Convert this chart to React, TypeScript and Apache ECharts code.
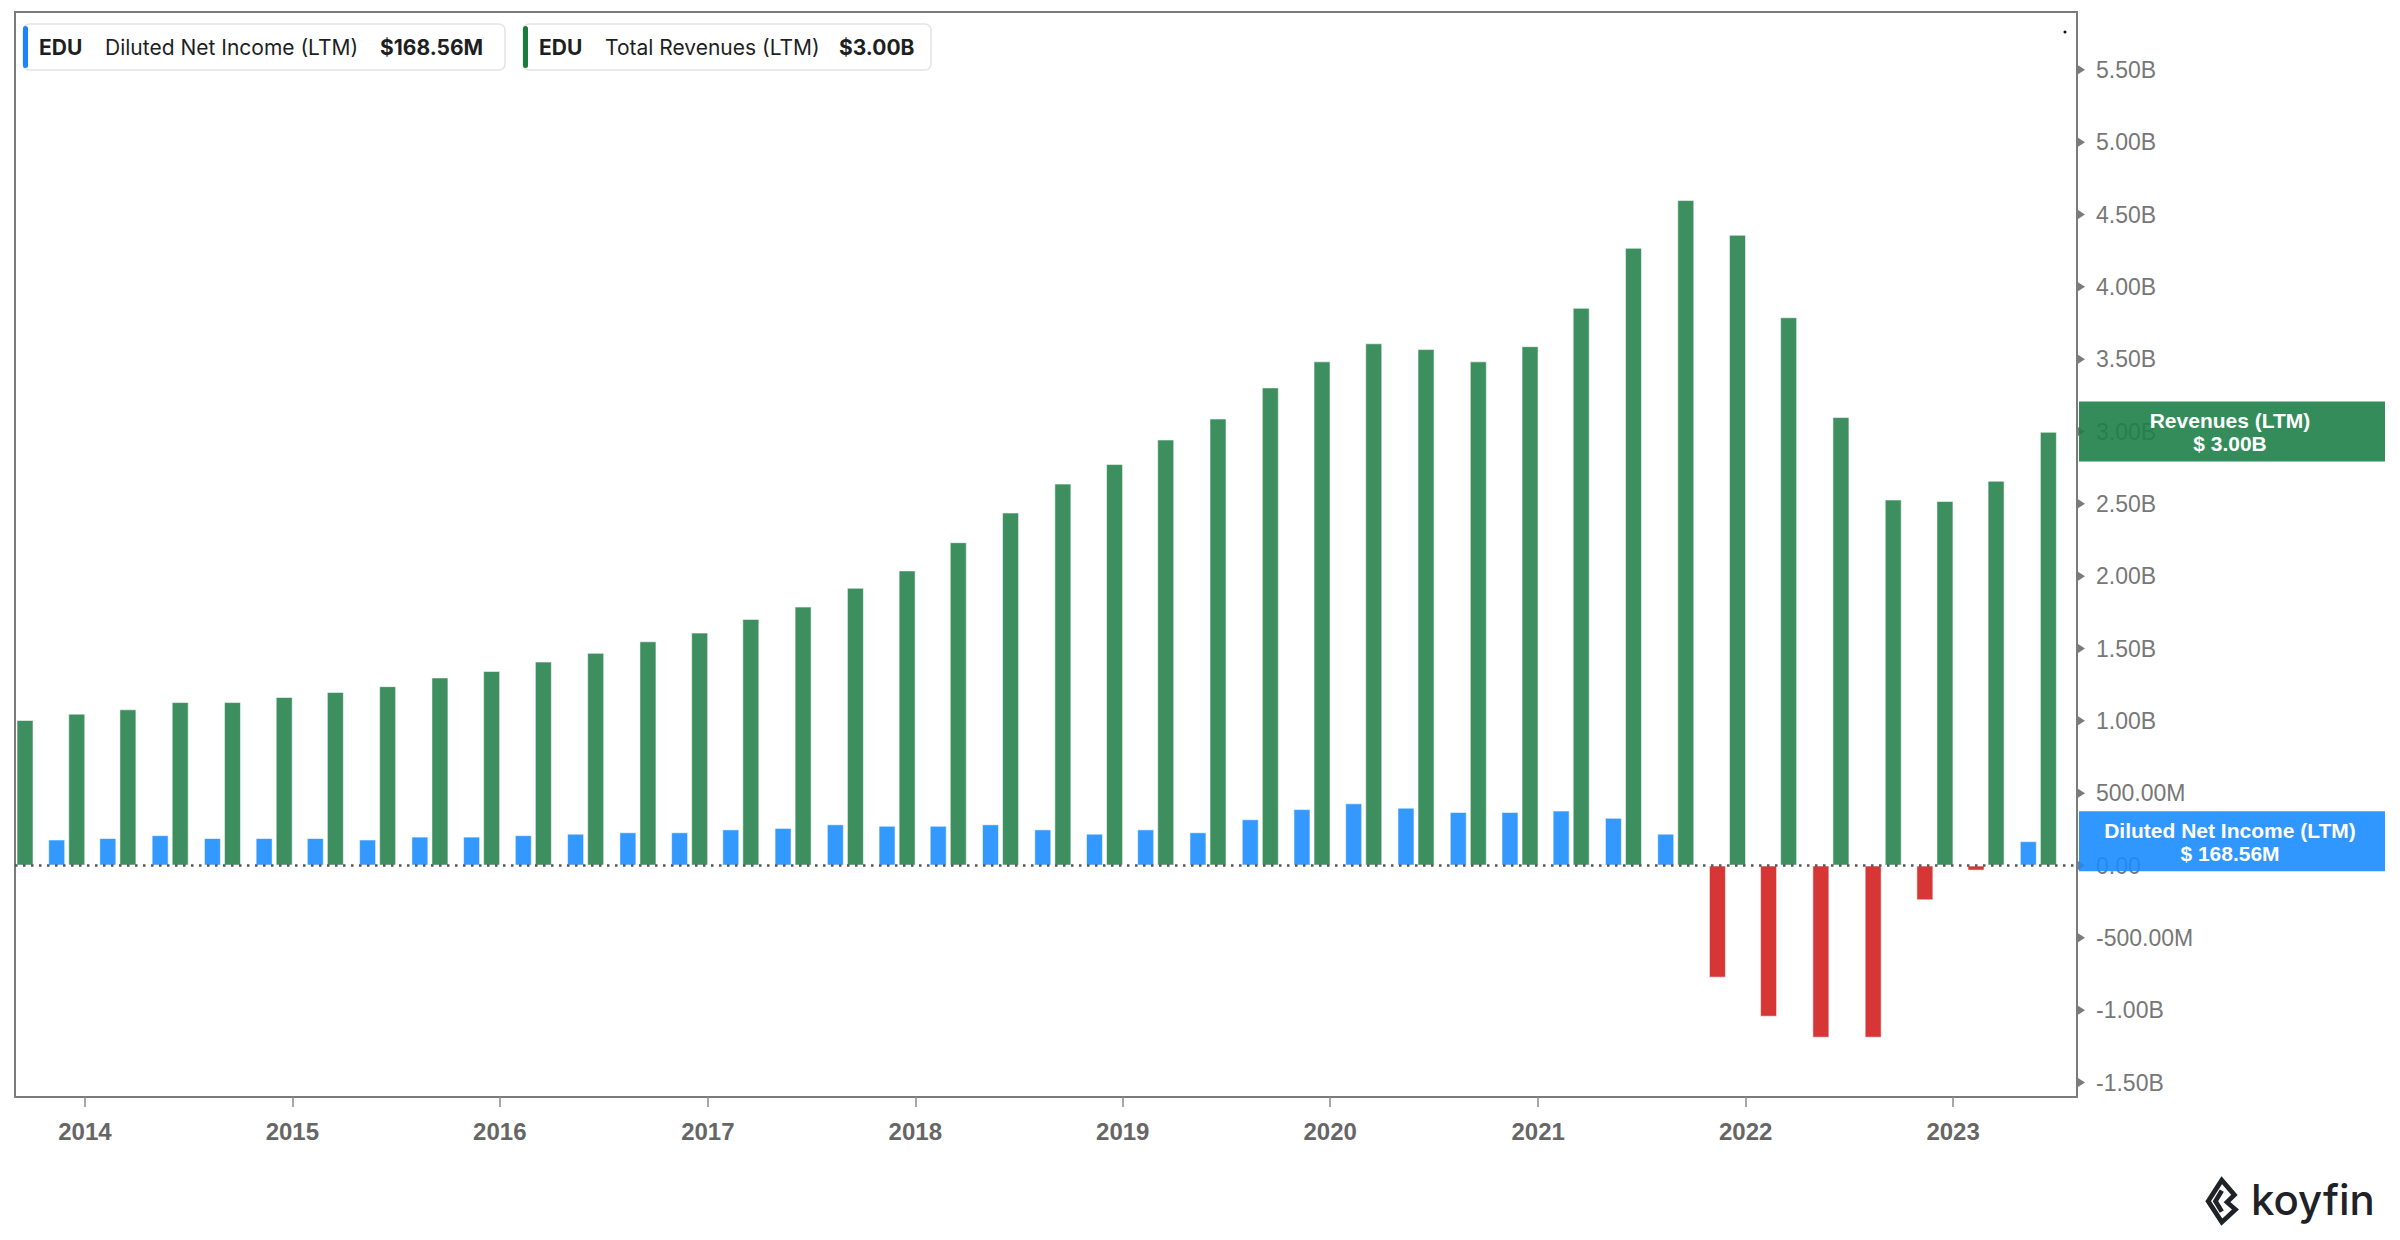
import React, { useEffect, useRef } from "react";
import * as echarts from "echarts";

// Fiscal quarter-end dates (New Oriental, FY ends May 31)
const QUARTERS = [
  "2013-08-31", "2013-11-30", "2014-02-28", "2014-05-31",
  "2014-08-31", "2014-11-30", "2015-02-28", "2015-05-31",
  "2015-08-31", "2015-11-30", "2016-02-29", "2016-05-31",
  "2016-08-31", "2016-11-30", "2017-02-28", "2017-05-31",
  "2017-08-31", "2017-11-30", "2018-02-28", "2018-05-31",
  "2018-08-31", "2018-11-30", "2019-02-28", "2019-05-31",
  "2019-08-31", "2019-11-30", "2020-02-29", "2020-05-31",
  "2020-08-31", "2020-11-30", "2021-02-28", "2021-05-31",
  "2021-08-31", "2021-11-30", "2022-02-28", "2022-05-31",
  "2022-08-31", "2022-11-30", "2023-02-28", "2023-05-31",
];

// Diluted Net Income (LTM), USD billions
const NET_INCOME = [
  0.18, 0.18, 0.19, 0.21, 0.19, 0.19, 0.19, 0.18,
  0.20, 0.20, 0.21, 0.22, 0.23, 0.23, 0.25, 0.26,
  0.285, 0.275, 0.275, 0.285, 0.25, 0.22, 0.25, 0.23,
  0.32, 0.39, 0.43, 0.40, 0.37, 0.37, 0.38, 0.33,
  0.22, -0.775, -1.045, -1.19, -1.19, -0.24, -0.035, 0.16856,
];

// Total Revenues (LTM), USD billions
const REVENUES = [
  1.006, 1.05, 1.08, 1.13, 1.13, 1.165, 1.2, 1.24,
  1.3, 1.345, 1.41, 1.47, 1.55, 1.61, 1.705, 1.79,
  1.92, 2.04, 2.235, 2.44, 2.64, 2.775, 2.945, 3.09,
  3.305, 3.485, 3.61, 3.57, 3.485, 3.59, 3.855, 4.27,
  4.6, 4.36, 3.79, 3.1, 2.53, 2.52, 2.66, 2.998,
];

const YEAR_TICKS = [2014, 2015, 2016, 2017, 2018, 2019, 2020, 2021, 2022, 2023];
const Y_TICKS = [-1.5, -1.0, -0.5, 0, 0.5, 1.0, 1.5, 2.0, 2.5, 3.0, 3.5, 4.0, 4.5, 5.0, 5.5];

const X_MIN = "2013-08-31";
const X_MAX = "2023-08-07";
const Y_MIN = -1.6;
const Y_MAX = 5.9;

const BLUE = "#3399ff";
const RED = "#d63636";
const GREEN = "#3d8f5f";

const ts = (s: string) => {
  const [y, m, d] = s.split("-").map(Number);
  return Date.UTC(y, m - 1, d);
};

const fmtY = (v: number) => {
  if (Math.abs(v) < 1) return "0.00";
  if (Math.abs(v) >= 1e9 - 1) return (v / 1e9).toFixed(2) + "B";
  return (v / 1e6).toFixed(2) + "M";
};

const LOGO_PATH =
  "M16 3 L3 23 L16 43 L29 31 L21 24 L28 17 Z M16 13 L10 23 L16 33";

let logoRegistered = false;

export default function App() {
  const ref = useRef<HTMLDivElement>(null);

  useEffect(() => {
    document.body.style.margin = "0";
    if (!logoRegistered) {
      echarts.graphic.registerShape("koyfinLogo", echarts.graphic.extendPath(LOGO_PATH, {}));
      logoRegistered = true;
    }
    const chart = echarts.init(ref.current as HTMLDivElement, null, {
      renderer: "svg",
      width: 2400,
      height: 1240,
    });

    const yearTs = YEAR_TICKS.map((y) => Date.UTC(y, 0, 1));
    const yVals = Y_TICKS.map((v) => v * 1e9);
    const axisFont = '"Liberation Sans", Arial, sans-serif';

    const option: any = {
      animation: false,
      backgroundColor: "#ffffff",
      grid: {
        left: 15,
        right: 323,
        top: 12,
        bottom: 143,
        show: true,
        borderColor: "#7b7b7b",
        borderWidth: 2,
        backgroundColor: "transparent",
      },
      xAxis: {
        type: "value",
        min: ts(X_MIN),
        max: ts(X_MAX),
        axisLine: { show: true, onZero: false, lineStyle: { color: "#7b7b7b", width: 2 } },
        axisTick: {
          show: true,
          length: 10,
          customValues: yearTs,
          lineStyle: { color: "#8a8a8a", width: 1.5 },
        },
        axisLabel: {
          customValues: yearTs,
          formatter: (v: number) => String(new Date(v).getUTCFullYear()),
          color: "#666666",
          fontWeight: "bold",
          fontSize: 24,
          fontFamily: axisFont,
          margin: 22,
        },
        splitLine: { show: false },
      },
      yAxis: {
        type: "value",
        position: "right",
        min: Y_MIN * 1e9,
        max: Y_MAX * 1e9,
        axisLine: { show: true, lineStyle: { color: "#7b7b7b", width: 2 } },
        axisTick: { show: false },
        axisLabel: {
          customValues: yVals,
          formatter: fmtY,
          color: "#777",
          fontSize: 23,
          fontFamily: axisFont,
          margin: 19,
        },
        splitLine: { show: false },
      },
      series: [
        {
          name: "Diluted Net Income (LTM)",
          type: "bar",
          barWidth: 17,
          barGap: "18%",
          data: QUARTERS.map((d, i) => [ts(d), NET_INCOME[i] * 1e9]),
          itemStyle: {
            color: (p: any) => (p.value[1] < 0 ? RED : BLUE),
            borderColor: "rgba(255,255,255,0.55)",
            borderWidth: 1,
          },
        },
        {
          name: "Total Revenues (LTM)",
          type: "bar",
          barWidth: 17,
          barGap: "18%",
          data: QUARTERS.map((d, i) => [ts(d), REVENUES[i] * 1e9]),
          itemStyle: {
            color: GREEN,
            borderColor: "rgba(255,255,255,0.55)",
            borderWidth: 1,
          },
          markLine: {
            silent: true,
            symbol: ["none", "none"],
            label: { show: false },
            lineStyle: { color: "#555", type: [2.5, 5.5], width: 2.5, opacity: 1 },
            data: [{ yAxis: 0 }],
            z: 5,
          },
        },
      ],
    };

    chart.setOption(option);

    const lastNet = NET_INCOME[NET_INCOME.length - 1] * 1e9;
    const lastRev = 3.0e9;
    const gridRight = 2400 - 323;

    const valueBox = (val: number, color: string, l1: string, l2: string) => {
      const y = chart.convertToPixel({ yAxisIndex: 0 }, val) as number;
      const font = 'bold 21px "Liberation Sans", Arial, sans-serif';
      return {
        type: "group",
        z: 20,
        children: [
          { type: "rect", z: 20, shape: { x: gridRight + 2, y: y - 30, width: 306, height: 60 }, style: { fill: color } },
          { type: "text", z: 21, style: { text: l1, x: gridRight + 153, y: y - 11, textAlign: "center", textVerticalAlign: "middle", fill: "#fff", font } },
          { type: "text", z: 21, style: { text: l2, x: gridRight + 153, y: y + 12, textAlign: "center", textVerticalAlign: "middle", fill: "#fff", font } },
        ],
      };
    };

    const tickMarks = yVals.map((v) => {
      const y = chart.convertToPixel({ yAxisIndex: 0 }, v) as number;
      return {
        type: "polygon",
        z: 10,
        shape: { points: [[gridRight + 1, y - 4.5], [gridRight + 8, y], [gridRight + 1, y + 4.5]] },
        style: { fill: "#7b7b7b" },
      };
    });

    const legendFont = (w: string) => `${w} 21px Inter, "Noto Sans", sans-serif`;
    const legendBox = (x: number, w: number, color: string, parts: [string, number, string][]) => ({
      type: "group",
      children: [
        { type: "rect", z: 10, shape: { x, y: 24, width: w, height: 46, r: 6 }, style: { fill: "#fff", stroke: "#e4e4e4", lineWidth: 1.5 } },
        { type: "rect", z: 11, shape: { x: x, y: 26, width: 5, height: 42, r: 2.5 }, style: { fill: color } },
        ...parts.map(([t, dx, weight]) => ({
          type: "text",
          z: 11,
          style: { text: t, x: x + dx, y: 47, textVerticalAlign: "middle", fill: "#1d1f23", font: legendFont(weight) },
        })),
      ],
    });

    chart.setOption({
      graphic: [
        // mask for the bar overflowing the left edge of the plot
        { type: "rect", z: 10, shape: { x: 0, y: 0, width: 14, height: 1240 }, style: { fill: "#fff" } },
        ...tickMarks,
        legendBox(23, 482, "#1a85ff", [
          ["EDU", 16, "bold"],
          ["Diluted Net Income (LTM)", 82, "normal"],
          ["$168.56M", 357, "bold"],
        ]),
        legendBox(523, 408, "#1b7a3e", [
          ["EDU", 16, "bold"],
          ["Total Revenues (LTM)", 82, "normal"],
          ["$3.00B", 316, "bold"],
        ]),
        valueBox(lastRev, "rgba(30,128,72,0.9)", "Revenues (LTM)", "$ 3.00B"),
        valueBox(lastNet, "rgba(24,140,255,0.9)", "Diluted Net Income (LTM)", "$ 168.56M"),
        { type: "circle", z: 10, shape: { cx: 2065, cy: 32, r: 1.5 }, style: { fill: "#111" } },
        {
          type: "koyfinLogo",
          z: 10,
          x: 2205,
          y: 1177,
          scaleX: 1.05,
          scaleY: 1.05,
          style: { fill: "none", stroke: "#1f2328", lineWidth: 4.5, lineJoin: "miter" },
        },
        {
          type: "text",
          z: 10,
          style: {
            text: "koyfin",
            x: 2251,
            y: 1199,
            textVerticalAlign: "middle",
            fill: "#1f2328",
            font: '500 42px Inter, "Noto Sans", sans-serif',
          },
        },
      ],
    });

    return () => chart.dispose();
  }, []);

  return <div ref={ref} style={{ width: 2400, height: 1240 }} />;
}
